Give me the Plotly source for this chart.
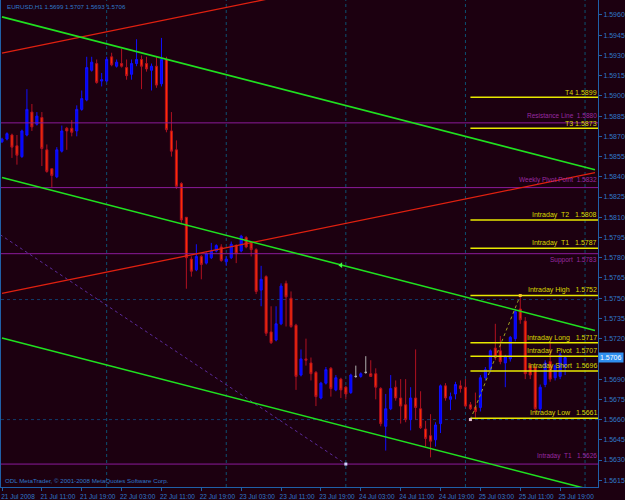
import plotly.graph_objects as go

# ---------------- data ----------------
tick_bars = [0, 8, 16, 24, 32, 40, 48, 56, 64, 72, 80, 88, 96, 104, 112]
tick_labels = ["21 Jul 2008", "21 Jul 11:00", "21 Jul 19:00", "22 Jul 03:00", "22 Jul 11:00",
               "22 Jul 19:00", "23 Jul 03:00", "23 Jul 11:00", "23 Jul 19:00", "24 Jul 03:00",
               "24 Jul 11:00", "24 Jul 19:00", "25 Jul 03:00", "25 Jul 11:00", "25 Jul 19:00"]

opens = [1.5866, 1.5868, 1.5871, 1.5863, 1.5855, 1.5871, 1.5888, 1.5879, 1.5884, 1.5860,
         1.5846, 1.5840, 1.5859, 1.5876, 1.5876, 1.5874, 1.5890, 1.5897, 1.5919, 1.5924,
         1.5911, 1.5911, 1.5929, 1.5922, 1.5924, 1.5921, 1.5916, 1.5924, 1.5927, 1.5924,
         1.5919, 1.5922, 1.5909, 1.5927, 1.5874, 1.5860, 1.5835, 1.5810, 1.5779, 1.5771,
         1.5781, 1.5776, 1.5780, 1.5785, 1.5788, 1.5777, 1.5780, 1.5789, 1.5785, 1.5795,
         1.5791, 1.5786, 1.5756, 1.5766, 1.5725, 1.5719, 1.5731, 1.5761, 1.5750, 1.5730,
         1.5693, 1.5705, 1.5702, 1.5695, 1.5676, 1.5687, 1.5698, 1.5682, 1.5690, 1.5684,
         1.5680, 1.5692, 1.5692, 1.5695, 1.5694, 1.5694, 1.5683, 1.5655, 1.5668, 1.5684,
         1.5676, 1.5671, 1.5660, 1.5676, 1.5668, 1.5653, 1.5648, 1.5645, 1.5657, 1.5685,
         1.5675, 1.5679, 1.5685, 1.5684, 1.5671, 1.5669, 1.5669, 1.5691, 1.5697, 1.5713,
         1.5711, 1.5702, 1.5705, 1.5720, 1.5742, 1.5733, 1.5700, 1.5699, 1.5668, 1.5686,
         1.5703, 1.5691, 1.5692, 1.5699]
highs = [1.5869, 1.5873, 1.5872, 1.5871, 1.5875, 1.5905, 1.5894, 1.5888, 1.5888, 1.5864,
         1.5846, 1.5862, 1.5878, 1.5877, 1.5882, 1.5893, 1.5904, 1.5929, 1.5929, 1.5927,
         1.5917, 1.5929, 1.5932, 1.5927, 1.5935, 1.5927, 1.5927, 1.5942, 1.5930, 1.5929,
         1.5924, 1.5929, 1.5943, 1.5929, 1.5888, 1.5867, 1.5836, 1.5810, 1.5781, 1.5790,
         1.5782, 1.5784, 1.5791, 1.5790, 1.5790, 1.5781, 1.5792, 1.5790, 1.5797, 1.5796,
         1.5792, 1.5787, 1.5774, 1.5767, 1.5744, 1.5744, 1.5761, 1.5763, 1.5755, 1.5731,
         1.5712, 1.5720, 1.5706, 1.5696, 1.5688, 1.5699, 1.5699, 1.5693, 1.5691, 1.5685,
         1.5694, 1.5700, 1.5695, 1.5707, 1.5704, 1.5698, 1.5684, 1.5679, 1.5693, 1.5689,
         1.5690, 1.5690, 1.5684, 1.5712, 1.5681, 1.5659, 1.5664, 1.5658, 1.5686, 1.5687,
         1.5680, 1.5688, 1.5689, 1.5690, 1.5673, 1.5680, 1.5693, 1.5699, 1.5712, 1.5731,
         1.5722, 1.5708, 1.5722, 1.5742, 1.5752, 1.5736, 1.5702, 1.5700, 1.5686, 1.5704,
         1.5717, 1.5701, 1.5710, 1.5707]
lows = [1.5865, 1.5867, 1.5854, 1.5849, 1.5854, 1.5870, 1.5874, 1.5878, 1.5848, 1.5843,
        1.5832, 1.5839, 1.5858, 1.5860, 1.5870, 1.5870, 1.5889, 1.5896, 1.5918, 1.5909,
        1.5907, 1.5910, 1.5922, 1.5921, 1.5921, 1.5912, 1.5912, 1.5922, 1.5905, 1.5918,
        1.5904, 1.5906, 1.5907, 1.5873, 1.5855, 1.5831, 1.5806, 1.5757, 1.5766, 1.5770,
        1.5764, 1.5775, 1.5779, 1.5784, 1.5777, 1.5774, 1.5779, 1.5776, 1.5784, 1.5787,
        1.5781, 1.5753, 1.5744, 1.5722, 1.5716, 1.5718, 1.5730, 1.5729, 1.5728, 1.5682,
        1.5692, 1.5700, 1.5689, 1.5670, 1.5675, 1.5686, 1.5677, 1.5681, 1.5676, 1.5675,
        1.5679, 1.5691, 1.5691, 1.5694, 1.5692, 1.5675, 1.5655, 1.5637, 1.5667, 1.5674,
        1.5657, 1.5658, 1.5652, 1.5660, 1.5653, 1.5640, 1.5632, 1.5640, 1.5650, 1.5674,
        1.5667, 1.5675, 1.5680, 1.5669, 1.5667, 1.5661, 1.5666, 1.5689, 1.5695, 1.5704,
        1.5701, 1.5684, 1.5703, 1.5718, 1.5731, 1.5690, 1.5690, 1.5665, 1.5665, 1.5684,
        1.5688, 1.5689, 1.5690, 1.5693]
closes = [1.5868, 1.5872, 1.5862, 1.5856, 1.5874, 1.5890, 1.5877, 1.5885, 1.5861, 1.5844,
          1.5841, 1.5860, 1.5874, 1.5874, 1.5873, 1.5890, 1.5898, 1.5921, 1.5925, 1.5910,
          1.5912, 1.5927, 1.5923, 1.5925, 1.5922, 1.5915, 1.5924, 1.5927, 1.5922, 1.5920,
          1.5922, 1.5908, 1.5927, 1.5875, 1.5859, 1.5833, 1.5808, 1.5780, 1.5770, 1.5781,
          1.5775, 1.5783, 1.5785, 1.5789, 1.5778, 1.5779, 1.5790, 1.5783, 1.5796, 1.5788,
          1.5786, 1.5755, 1.5764, 1.5724, 1.5717, 1.5731, 1.5759, 1.5751, 1.5729, 1.5692,
          1.5705, 1.5704, 1.5694, 1.5677, 1.5687, 1.5697, 1.5683, 1.5691, 1.5682, 1.5679,
          1.5693, 1.5692, 1.5694, 1.5695, 1.5692, 1.5684, 1.5657, 1.5668, 1.5683, 1.5676,
          1.5670, 1.5660, 1.5676, 1.5669, 1.5654, 1.5646, 1.5644, 1.5656, 1.5685, 1.5676,
          1.5677, 1.5686, 1.5683, 1.5670, 1.5668, 1.5666, 1.5691, 1.5697, 1.5711, 1.5706,
          1.5703, 1.5707, 1.5721, 1.5740, 1.5734, 1.5694, 1.5693, 1.5668, 1.5684, 1.5702,
          1.5690, 1.5700, 1.5708, 1.5706]
doji_bars = [71, 73]

day_separators = [21, 45, 69, 93, 117]

# trend / channel lines: (bar, price) anchor pairs
green_lines = [[(0, 1.59586), (119, 1.58452)],
               [(0, 1.58395), (119, 1.57261)],
               [(0, 1.57205), (119, 1.56071)]]
green_arrow = (68, 1.57745)
red_lines = [[(0, 1.59317), (119, 1.60213)],
             [(0, 1.57535), (119, 1.58431)]]
purple_dotted_line = [(-0.4, 1.57972), (69, 1.56270)]
zigzag = [(94, 1.5660), (104, 1.5752)]

purple_levels = [1.5880, 1.5832, 1.5783, 1.5627]
purple_texts = ["Resistance Line  1.5880", "Weekly Pivot Point  1.5832", "Support  1.5783",
                "Intraday  T1   1.5626"]
purple_below = [False, False, True, False]
blue_dotted_levels = [1.5749, 1.5660]

level_start_bar = 94
level_values = [1.5899, 1.5876, 1.5808, 1.5787, 1.5752, 1.5717, 1.5707, 1.5696, 1.5661]
level_texts = ["T4 1.5899", "T3 1.5873", "Intraday  T2   1.5808", "Intraday  T1   1.5787",
               "Intraday High   1.5752", "Intraday Long   1.5717", "Intraday  Pivot  1.5707",
               "Intraday Short  1.5696", "Intraday Low   1.5661"]

y_ticks = [1.5615 + 0.0015 * k for k in range(24) if k != 6]
last_price = 1.5706
title_text = "EURUSD,H1 1.5699 1.5707 1.5693 1.5706"
copyright_text = "ODL MetaTrader, © 2001-2008 MetaQuotes Software Corp."

# ---------------- styles ----------------
BG = "#1c0010"
AXIS = "#1f5fa8"
TXT = "#2f78c8"
FONT = "Liberation Sans"
X_MAX = 119.6
LABEL_X = 119.5

n = len(opens)
xs = list(range(n))

fig = go.Figure()

for s in day_separators:
    fig.add_shape(type="line", xref="x", yref="paper", x0=s, x1=s, y0=0, y1=1,
                  line=dict(color="#0c4f70", width=1, dash="dot"), layer="below")

for v in blue_dotted_levels:
    fig.add_shape(type="line", xref="paper", yref="y", x0=0, x1=1, y0=v, y1=v,
                  line=dict(color="#123a6a", width=1, dash="dot"), layer="below")

for v in purple_levels:
    fig.add_trace(go.Scatter(x=[-1, 121], y=[v, v], mode="lines",
                             line=dict(color="#8a1a9a", width=1), hoverinfo="skip"))

fig.add_trace(go.Scatter(x=[p[0] for p in purple_dotted_line], y=[p[1] for p in purple_dotted_line],
                         mode="lines", line=dict(color="#5a2a9a", width=1, dash="dot"), hoverinfo="skip"))
fig.add_trace(go.Scatter(x=[purple_dotted_line[1][0]], y=[purple_dotted_line[1][1]], mode="markers",
                         marker=dict(color="#d0d0ff", size=3, symbol="square"), hoverinfo="skip"))

for ln in red_lines:
    fig.add_trace(go.Scatter(x=[p[0] for p in ln], y=[p[1] for p in ln], mode="lines",
                             line=dict(color="#e02010", width=1.3), hoverinfo="skip"))
for ln in green_lines:
    fig.add_trace(go.Scatter(x=[p[0] for p in ln], y=[p[1] for p in ln], mode="lines",
                             line=dict(color="#20e020", width=1.6), hoverinfo="skip"))
fig.add_trace(go.Scatter(x=[green_arrow[0]], y=[green_arrow[1]], mode="markers",
                         marker=dict(color="#40ff40", size=5, symbol="triangle-left"), hoverinfo="skip"))

for v in level_values:
    fig.add_trace(go.Scatter(x=[level_start_bar, 121], y=[v, v], mode="lines",
                             line=dict(color="#e8e800", width=1.5), hoverinfo="skip"))

fig.add_trace(go.Scatter(x=[p[0] for p in zigzag], y=[p[1] for p in zigzag], mode="lines",
                         line=dict(color="#a0a020", width=1, dash="dot"), hoverinfo="skip"))

reg = [i for i in xs if i not in doji_bars]
fig.add_trace(go.Candlestick(
    x=reg, open=[opens[i] for i in reg], high=[highs[i] for i in reg],
    low=[lows[i] for i in reg], close=[closes[i] for i in reg],
    increasing=dict(line=dict(color="#1010ff", width=1), fillcolor="#0000ff"),
    decreasing=dict(line=dict(color="#b01020", width=1), fillcolor="#ff3000"),
    whiskerwidth=0, hoverinfo="skip"))
fig.add_trace(go.Candlestick(
    x=doji_bars, open=[opens[i] for i in doji_bars], high=[highs[i] for i in doji_bars],
    low=[lows[i] for i in doji_bars], close=[closes[i] for i in doji_bars],
    increasing=dict(line=dict(color="#b0b0b0", width=1), fillcolor="#b0b0b0"),
    decreasing=dict(line=dict(color="#b0b0b0", width=1), fillcolor="#b0b0b0"),
    whiskerwidth=0, hoverinfo="skip"))

fig.add_trace(go.Scatter(x=[zigzag[0][0]], y=[zigzag[0][1]], mode="markers",
                         marker=dict(color="#e0c0d0", size=3, symbol="square"), hoverinfo="skip"))
fig.add_trace(go.Scatter(x=[zigzag[1][0]], y=[zigzag[1][1]], mode="markers",
                         marker=dict(color="#f0c020", size=3, symbol="square"), hoverinfo="skip"))

annotations = []
for t, v in zip(level_texts, level_values):
    annotations.append(dict(x=LABEL_X, y=v, xref="x", yref="y", text=t, showarrow=False,
                            xanchor="right", yanchor="bottom", yshift=-1, xshift=1,
                            font=dict(family=FONT, size=7, color="#d8d800")))
for t, v, below in zip(purple_texts, purple_levels, purple_below):
    annotations.append(dict(x=LABEL_X, y=v, xref="x", yref="y", text=t, showarrow=False,
                            xanchor="right", yanchor="top" if below else "bottom",
                            yshift=0 if below else 2, xshift=1,
                            font=dict(family=FONT, size=6.5, color="#9a2aa0")))

annotations.append(dict(x=0.006, y=1, xref="paper", yref="paper", text=title_text, showarrow=False,
                        xanchor="left", yanchor="top", yshift=-1,
                        font=dict(family=FONT, size=6.2, color=TXT)))
annotations.append(dict(x=0.004, y=0, xref="paper", yref="paper", text=copyright_text, showarrow=False,
                        xanchor="left", yanchor="bottom", yshift=1,
                        font=dict(family=FONT, size=6.2, color=TXT)))
annotations.append(dict(x=1, y=last_price, xref="paper", yref="y", text="1.5706", showarrow=False,
                        xanchor="left", yanchor="middle", bgcolor="#2f8ff0", borderpad=1,
                        font=dict(family=FONT, size=7, color="#ffffff")))

fig.update_layout(
    width=625, height=500,
    margin=dict(l=1, r=25, t=0, b=12),
    paper_bgcolor=BG, plot_bgcolor=BG,
    showlegend=False,
    boxgap=0.4,
    annotations=annotations,
    xaxis=dict(range=[-0.2, X_MAX], tickvals=tick_bars, ticktext=tick_labels,
               ticks="outside", ticklen=3, tickcolor=AXIS, showgrid=False, zeroline=False,
               showline=True, linecolor=AXIS, linewidth=1,
               tickfont=dict(family=FONT, size=6.5, color=TXT),
               ticklabelshift=16, rangeslider=dict(visible=False), fixedrange=True),
    yaxis=dict(range=[1.56100, 1.59711], side="right", tickvals=y_ticks, tickformat=".4f",
               ticks="outside", ticklen=3, tickcolor=AXIS, showgrid=False, zeroline=False,
               showline=True, linecolor=AXIS, linewidth=1, mirror=True,
               tickfont=dict(family=FONT, size=7, color=TXT), fixedrange=True),
)

fig.write_html("out.html")
